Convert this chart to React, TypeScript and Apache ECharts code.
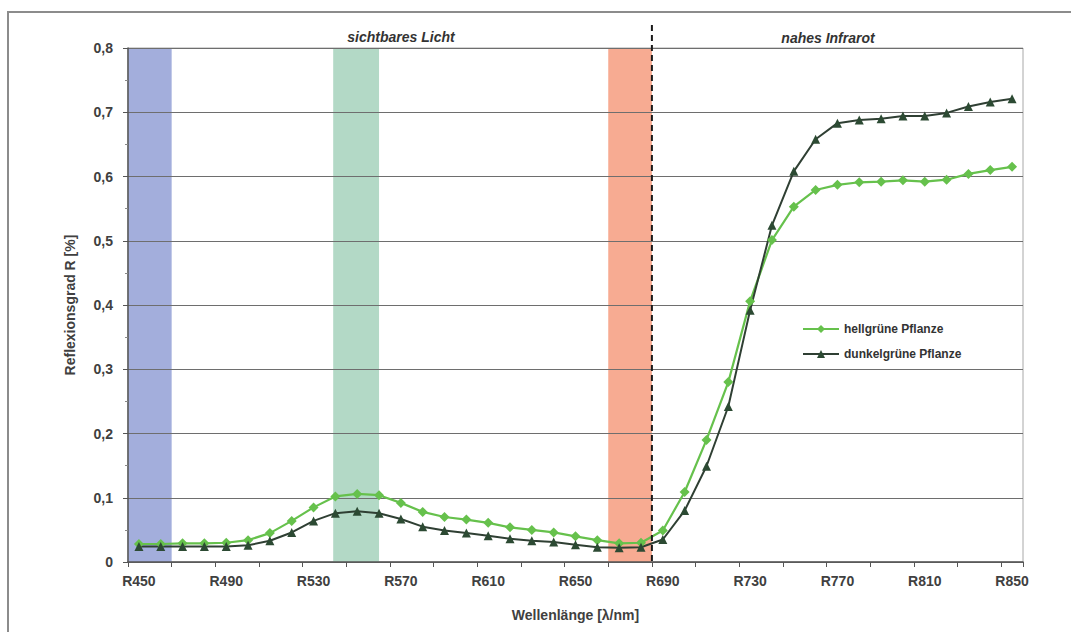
import React, { useEffect, useRef } from "react";
import * as echarts from "echarts";

const categories = [
  "R450", "R460", "R470", "R480", "R490", "R500", "R510", "R520", "R530", "R540",
  "R550", "R560", "R570", "R580", "R590", "R600", "R610", "R620", "R630", "R640",
  "R650", "R660", "R670", "R680", "R690", "R700", "R710", "R720", "R730", "R740",
  "R750", "R760", "R770", "R780", "R790", "R800", "R810", "R820", "R830", "R840", "R850",
];

const hellgruen = [
  0.028, 0.028, 0.029, 0.029, 0.030, 0.034, 0.045, 0.064, 0.085, 0.102, 0.106, 0.104,
  0.092, 0.078, 0.070, 0.066, 0.061, 0.054, 0.050, 0.046, 0.040, 0.034, 0.029, 0.030,
  0.049, 0.109, 0.190, 0.280, 0.406, 0.501,
  0.553, 0.579, 0.587, 0.591, 0.592, 0.594, 0.592, 0.595, 0.604, 0.610, 0.615,
];

const dunkelgruen = [
  0.024, 0.024, 0.024, 0.024, 0.024, 0.026, 0.033, 0.046, 0.064, 0.076, 0.079, 0.076,
  0.067, 0.055, 0.049, 0.045, 0.041, 0.036, 0.033, 0.031, 0.027, 0.023, 0.022, 0.023,
  0.035, 0.080, 0.149, 0.242, 0.392, 0.524,
  0.608, 0.658, 0.683, 0.688, 0.690, 0.694, 0.694, 0.699, 0.709, 0.716, 0.721,
];

// band ranges in category-index units (boundaries between categories at .5)
const blueBand = [-0.5, 1.5];
const greenBand = [8.9, 11.0];
const redBand = [21.5, 23.5];
const visNirBoundary = 23.5;

const yTicks = [0, 0.1, 0.2, 0.3, 0.4, 0.5, 0.6, 0.7, 0.8];

const FONT = "'Liberation Sans', Arial, sans-serif";

export default function App() {
  const ref = useRef<HTMLDivElement>(null);

  useEffect(() => {
    if (!ref.current) return;
    const chart = echarts.init(ref.current, undefined, { renderer: "svg" });
    const option: any = {
      animation: false,
      backgroundColor: "#ffffff",
      textStyle: { fontFamily: FONT },
      grid: {
        left: 128,
        right: 48,
        top: 48,
        bottom: 70,
        show: true,
        borderColor: "#a8a8a8",
        borderWidth: 1,
        backgroundColor: "transparent",
      },
      legend: {
        orient: "vertical",
        left: 797,
        top: 318,
        itemWidth: 36,
        itemHeight: 10,
        itemGap: 13,
        textStyle: { fontFamily: FONT, fontSize: 12, fontWeight: "bold", color: "#333333" },
        data: ["hellgrüne Pflanze", "dunkelgrüne Pflanze"],
      },
      xAxis: [
        {
          type: "category",
          data: categories,
          boundaryGap: true,
          z: 3,
          name: "Wellenlänge [λ/nm]",
          nameLocation: "middle",
          nameGap: 46,
          nameTextStyle: { fontFamily: FONT, fontSize: 14, fontWeight: "bold", color: "#404040" },
          axisLine: { onZero: false, lineStyle: { color: "#555555", width: 1.5 } },
          axisTick: { show: true, interval: 1, length: 5, lineStyle: { color: "#555555" } },
          axisLabel: {
            interval: 3,
            margin: 12,
            fontFamily: FONT,
            fontSize: 14,
            fontWeight: "bold",
            color: "#404040",
          },
          splitLine: { show: false },
        },
        {
          type: "value",
          min: -0.5,
          max: 40.5,
          show: false,
          axisLine: { onZero: false },
        },
      ],
      yAxis: {
        type: "value",
        min: 0,
        max: 0.8,
        interval: 0.1,
        z: 3,
        name: "Reflexionsgrad R [%]",
        nameLocation: "middle",
        nameGap: 51,
        nameRotate: 90,
        nameTextStyle: { fontFamily: FONT, fontSize: 14, fontWeight: "bold", color: "#404040" },
        axisLine: { show: true, onZero: false, lineStyle: { color: "#555555", width: 1.5 } },
        axisTick: { show: true, length: 5, lineStyle: { color: "#555555" } },
        minorTick: { show: true, splitNumber: 2, length: 3, lineStyle: { color: "#888888" } },
        axisLabel: {
          margin: 15,
          fontFamily: FONT,
          fontSize: 14,
          fontWeight: "bold",
          color: "#404040",
          formatter: (v: number) => {
            const t = yTicks.find((x) => Math.abs(x - v) < 1e-9);
            const val = t === undefined ? v : t;
            return val === 0 ? "0" : val.toFixed(1).replace(".", ",");
          },
        },
        splitLine: { show: true, lineStyle: { color: "#6e6e6e", width: 1 } },
      },
      series: [
        {
          name: "bands",
          type: "line",
          xAxisIndex: 1,
          data: [[-0.5, 0]],
          symbol: "none",
          lineStyle: { opacity: 0 },
          silent: true,
          z: 1,
          markArea: {
            silent: true,
            z: 1,
            data: [
              [{ xAxis: blueBand[0], itemStyle: { color: "#a3aedc" } }, { xAxis: blueBand[1] }],
              [{ xAxis: greenBand[0], itemStyle: { color: "#b3d9c6" } }, { xAxis: greenBand[1] }],
              [{ xAxis: redBand[0], itemStyle: { color: "#f7ab92" } }, { xAxis: redBand[1] }],
            ],
          },
        },
        {
          name: "hellgrüne Pflanze",
          type: "line",
          data: hellgruen,
          z: 5,
          symbol: "diamond",
          symbolSize: 10,
          color: "#66c14c",
          lineStyle: { color: "#66c14c", width: 2.2 },
          itemStyle: { color: "#66c14c" },
        },
        {
          name: "dunkelgrüne Pflanze",
          type: "line",
          data: dunkelgruen,
          z: 5,
          symbol: "triangle",
          symbolSize: 9,
          color: "#2c4a33",
          lineStyle: { color: "#2f3f33", width: 2 },
          itemStyle: { color: "#2c4a33" },
        },
      ],
    };
    chart.setOption(option);

    const xb = chart.convertToPixel({ xAxisIndex: 1 }, visNirBoundary) as number;
    const y0 = chart.convertToPixel({ yAxisIndex: 0 }, 0) as number;
    chart.setOption({
      graphic: [
        {
          type: "rect",
          z: 0,
          silent: true,
          shape: { x: 8, y: 12, width: 1200, height: 800 },
          style: { fill: "none", stroke: "#8c8c8c", lineWidth: 2 },
        },
        {
          type: "line",
          z: 20,
          silent: true,
          shape: { x1: xb, y1: 25, x2: xb, y2: y0 },
          style: { stroke: "#1a1a1a", lineWidth: 2, lineDash: [6, 4] },
        },
        {
          type: "text",
          z: 20,
          x: 401,
          y: 37,
          style: {
            text: "sichtbares Licht",
            fontFamily: FONT,
            fontSize: 14,
            fontWeight: "bold",
            fontStyle: "italic",
            fill: "#333333",
            align: "center",
            verticalAlign: "middle",
          },
        },
        {
          type: "text",
          z: 20,
          x: 828,
          y: 38,
          style: {
            text: "nahes Infrarot",
            fontFamily: FONT,
            fontSize: 14,
            fontWeight: "bold",
            fontStyle: "italic",
            fill: "#333333",
            align: "center",
            verticalAlign: "middle",
          },
        },
      ],
    });

    return () => chart.dispose();
  }, []);

  return (
    <div
      ref={ref}
      style={{ position: "fixed", left: 0, top: 0, width: 1071, height: 632 }}
    />
  );
}
